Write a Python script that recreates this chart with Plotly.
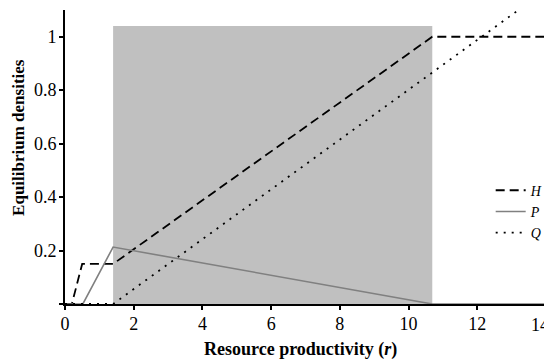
import plotly.graph_objects as go

# Data
h_r = [0, 0.2, 0.5, 1.4, 10.69, 14]
h_val = [0, 0, 0.15, 0.15, 1.0, 1.0]

p_r = [0, 0.52, 1.4, 10.69, 14]
p_val = [0, 0, 0.213, 0, 0]

q_r = [0, 1.4, 13.2]
q_val = [0, 0, 1.1]

shade_r = [1.4, 10.69]
shade_top = 1.04

x_ticks = [0, 2, 4, 6, 8, 10, 12, 14]
x_ticktext = ["0", "2", "4", "6", "8", "10", "12", ""]
last_x_label = "14"
y_ticks = [0, 0.2, 0.4, 0.6, 0.8, 1]
y_ticktext = ["", "0.2", "0.4", "0.6", "0.8", "1"]

serif = "Liberation Serif, serif"

fig = go.Figure()
fig.add_trace(go.Scatter(x=h_r, y=h_val, mode="lines", name="<i>H</i>",
                         line=dict(color="black", width=1.8, dash="9px,5px")))
fig.add_trace(go.Scatter(x=p_r, y=p_val, mode="lines", name="<i>P</i>",
                         line=dict(color="#808080", width=1.6)))
fig.add_trace(go.Scatter(x=q_r, y=q_val, mode="lines", name="<i>Q</i>",
                         line=dict(color="black", width=1.8, dash="2px,6px")))

fig.add_shape(type="rect", xref="x", yref="y", x0=shade_r[0], x1=shade_r[1],
              y0=0, y1=shade_top, fillcolor="#c0c0c0", line=dict(width=0),
              layer="below")

fig.add_annotation(text="<b>Equilibrium densities</b>", textangle=-90,
                   xref="paper", yref="paper", x=0, y=0.565,
                   xanchor="center", yanchor="middle", xshift=-46,
                   showarrow=False, font=dict(size=17, family=serif))
fig.add_annotation(text="<b>Resource productivity (<i>r</i>)</b>",
                   xref="paper", yref="paper", x=0.49, y=0,
                   xanchor="center", yanchor="middle", yshift=-45,
                   showarrow=False, font=dict(size=18, family=serif))
fig.add_annotation(text=last_x_label, xref="x", yref="paper",
                   x=x_ticks[-1], y=0, xanchor="center", yanchor="top",
                   xshift=-6, yshift=-9, showarrow=False,
                   font=dict(size=18, family=serif))

# page body has an 8px default margin, so the figure is 8px smaller and shifted
fig.update_layout(
    width=544, height=352,
    margin=dict(l=57, r=6, t=2, b=56),
    plot_bgcolor="white", paper_bgcolor="white",
    font=dict(family=serif, size=17, color="black"),
    showlegend=True,
    legend=dict(x=0.885, xanchor="left", y=0.44, yanchor="top",
                bgcolor="rgba(0,0,0,0)", font=dict(size=14, family=serif),
                tracegroupgap=0, itemwidth=30),
    xaxis=dict(range=[0, 14], tickvals=x_ticks, ticktext=x_ticktext,
               showgrid=False, zeroline=False,
               showline=True, linecolor="black", linewidth=2, automargin=False,
               ticks="outside", ticklen=4, tickwidth=1.5, tickcolor="black",
               ticklabelstandoff=-2,
               tickfont=dict(family=serif, size=18)),
    yaxis=dict(range=[0, 1.1], tickvals=y_ticks, ticktext=y_ticktext,
               showgrid=False, zeroline=False, automargin=False,
               showline=True, linecolor="black", linewidth=2,
               ticks="outside", ticklen=4, tickwidth=1.5, tickcolor="black",
               ticklabelstandoff=-1,
               tickfont=dict(family=serif, size=18)),
)

fig.write_html("out.html")
